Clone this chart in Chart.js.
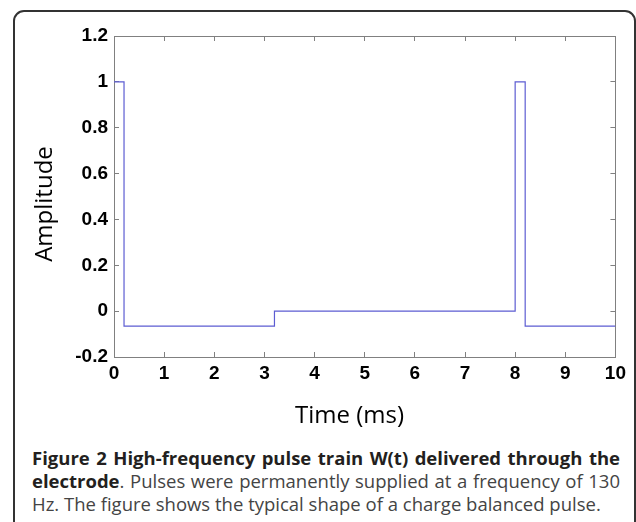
<!DOCTYPE html>
<html>
<head>
<meta charset="utf-8">
<script src="https://cdn.jsdelivr.net/npm/chart.js@4"></script>
<style>
  html, body { margin: 0; padding: 0; background: #fff; }
  body { width: 636px; height: 522px; position: relative; overflow: hidden; }
  #frame {
    position: absolute; left: 13px; top: 10px; width: 623px; height: 600px;
    box-sizing: border-box; border: 2px solid #333; border-radius: 11px;
  }
  #pulseChart { position: absolute; left: 0; top: 0; }
  .axis-title { position: absolute; font-family: "Open Sans", sans-serif; font-size: 24px; line-height: 24px; color: #000; white-space: nowrap; }
  #xTitle { left: 295px; top: 402px; }
  #yTitle { left: -57px; top: 192px; width: 200px; text-align: center; transform: rotate(-90deg); }
  .caption { position: absolute; left: 32px; width: 588px; font-family: "Open Sans", sans-serif; font-size: 18.5px; line-height: 23px; color: #444; white-space: nowrap; }
  .caption.just { text-align: justify; text-align-last: justify; }
  .caption b { color: #231f20; font-weight: 700; }
</style>
</head>
<body>
<div id="frame"></div>
<canvas id="pulseChart" width="636" height="400"></canvas>
<div class="axis-title" id="yTitle">Amplitude</div>
<div class="axis-title" id="xTitle">Time (ms)</div>
<div class="caption just" style="top:446px"><b>Figure 2 High-frequency pulse train W(t) delivered through the</b></div>
<div class="caption just" style="top:469px"><b>electrode</b>. Pulses were permanently supplied at a frequency of 130</div>
<div class="caption" style="top:492px">Hz. The figure shows the typical shape of a charge balanced pulse.</div>

<script>
// 펄스 파형 데이터 (계단형: 각 점에서 다음 점까지 값 유지)
const timeMs = [0, 0.2, 3.2, 8.0, 8.2, 10]
const amplitude = [1, -0.065, 0, 1, -0.065, -0.065]

// 축 눈금
const xTicks = [0, 1, 2, 3, 4, 5, 6, 7, 8, 9, 10]
const yTicks = [-0.2, 0, 0.2, 0.4, 0.6, 0.8, 1, 1.2]

const axisGray = "#808080"
const tickFont = { family: "'Liberation Sans', Arial, sans-serif", size: 19, weight: "bold" }

function inwardGrid() {
  return { drawOnChartArea: false, drawTicks: true, tickLength: -5, color: axisGray, lineWidth: 1 }
}

function initPulseChart() {
  const ctx = document.getElementById("pulseChart")

  new Chart(ctx, {
    type: "line",
    data: {
      datasets: [
        {
          label: "W(t)",
          data: timeMs.map((t, i) => ({ x: t, y: amplitude[i] })),
          borderColor: "#5c5cd2",
          borderWidth: 1.2,
          pointRadius: 0,
          stepped: true,
          fill: false,
        },
      ],
    },
    options: {
      responsive: false,
      animation: false,
      layout: { padding: 0 },
      plugins: {
        legend: { display: false },
        tooltip: { enabled: false },
      },
      scales: {
        x: {
          type: "linear",
          position: "bottom",
          min: xTicks[0],
          max: xTicks[xTicks.length - 1],
          afterBuildTicks: (scale) => { scale.ticks = xTicks.map((v) => ({ value: v })) },
          ticks: { color: "#000", font: tickFont, padding: 10, maxRotation: 0 },
          grid: inwardGrid(),
          border: { color: axisGray, width: 1 },
          afterFit: (scale) => { scale.height = 43 },
        },
        xTop: {
          type: "linear",
          position: "top",
          min: xTicks[0],
          max: xTicks[xTicks.length - 1],
          afterBuildTicks: (scale) => { scale.ticks = xTicks.map((v) => ({ value: v })) },
          ticks: { display: false },
          grid: inwardGrid(),
          border: { color: axisGray, width: 1 },
          afterFit: (scale) => { scale.height = 36 },
        },
        y: {
          type: "linear",
          position: "left",
          min: yTicks[0],
          max: yTicks[yTicks.length - 1],
          afterBuildTicks: (scale) => { scale.ticks = yTicks.map((v) => ({ value: v })) },
          ticks: {
            color: "#000",
            font: tickFont,
            padding: 11,
            callback: (v) => String(Number(v.toFixed(1))),
          },
          grid: inwardGrid(),
          border: { color: axisGray, width: 1 },
          afterFit: (scale) => { scale.width = 114 },
        },
        yRight: {
          type: "linear",
          position: "right",
          min: yTicks[0],
          max: yTicks[yTicks.length - 1],
          afterBuildTicks: (scale) => { scale.ticks = yTicks.map((v) => ({ value: v })) },
          ticks: { display: false },
          grid: inwardGrid(),
          border: { color: axisGray, width: 1 },
          afterFit: (scale) => { scale.width = 20 },
        },
      },
    },
  })
}

initPulseChart()
</script>
</body>
</html>
